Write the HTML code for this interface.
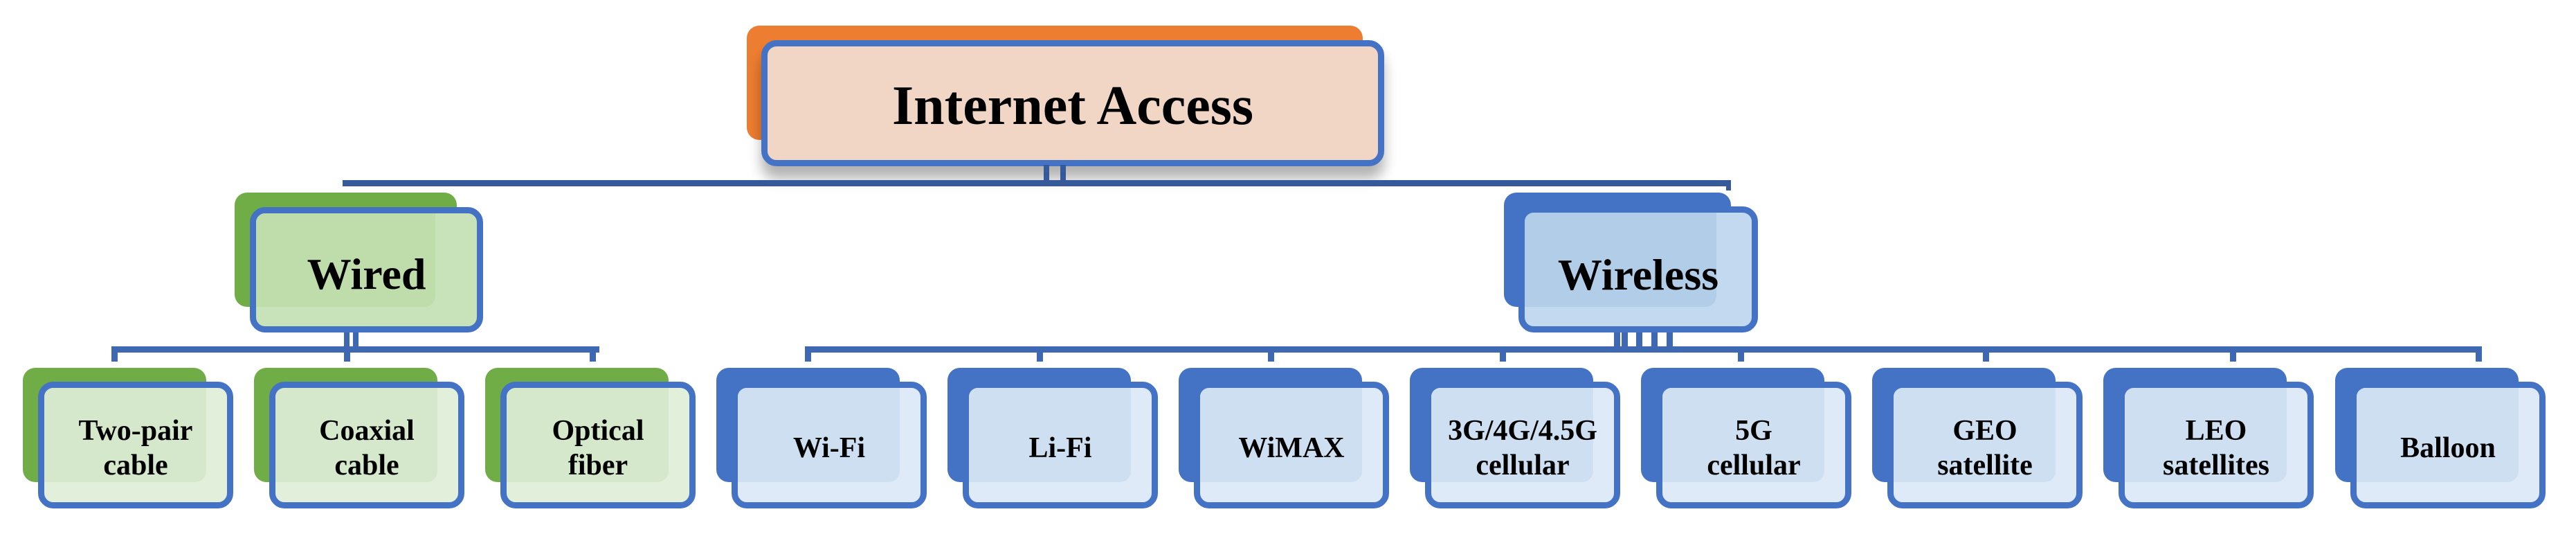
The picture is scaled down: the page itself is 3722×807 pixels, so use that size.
<!DOCTYPE html>
<html><head><meta charset="utf-8"><style>
body{margin:0;width:3722px;height:807px;background:#fff;position:relative;overflow:hidden;font-family:"Liberation Serif",serif;}
.a{position:absolute;}
.ln{position:absolute;background:#3e69b2;}
.bk{position:absolute;border-radius:18px;}
.fr{position:absolute;border:9px solid #4472c4;border-radius:22px;overflow:hidden;box-sizing:border-box;}
.in{position:absolute;border-radius:16px;}
.tx{position:absolute;left:0;right:0;text-align:center;font-weight:bold;color:#000;}
</style></head><body>

<!-- top box -->
<div class="bk" style="left:1079px;top:37px;width:890px;height:165px;background:#ed7d31;"></div>
<div class="fr" style="left:1100px;top:58px;width:900px;height:182px;background:#f2d6c5;box-shadow:0 18px 18px rgba(0,0,0,0.3);">
  <div class="tx" style="top:36px;font-size:80px;line-height:100px;">Internet Access</div>
</div>

<!-- top connector -->
<div class="ln" style="left:495px;top:260px;width:2006px;height:9px;background:#35599a;"></div>
<div class="ln" style="left:1508px;top:238px;width:8px;height:28px;background:#35599a;"></div>
<div class="ln" style="left:1532px;top:238px;width:8px;height:28px;background:#35599a;"></div>
<div class="ln" style="left:2494px;top:260px;width:7px;height:15px;background:#35599a;"></div>

<!-- Wired -->
<div class="bk" style="left:339px;top:278px;width:321px;height:165px;background:#70ad47;"></div>
<div class="fr" style="left:361px;top:299px;width:337px;height:181px;background:#c8e2b9;">
  <div class="in" style="left:-31px;top:-30px;width:290px;height:165px;background:#bfdcab;"></div>
  <div class="tx" style="top:48px;font-size:64px;line-height:80px;">Wired</div>
</div>
<div class="ln" style="left:497px;top:480px;width:8px;height:24px;"></div>
<div class="ln" style="left:510px;top:480px;width:8px;height:24px;"></div>
<div class="ln" style="left:161px;top:500px;width:705px;height:9px;"></div>
<div class="ln" style="left:161px;top:500px;width:9px;height:22px;"></div>
<div class="ln" style="left:497px;top:500px;width:9px;height:22px;"></div>
<div class="ln" style="left:852px;top:500px;width:9px;height:22px;"></div>

<!-- Wireless -->
<div class="bk" style="left:2173px;top:278px;width:328px;height:165px;background:#4472c4;"></div>
<div class="fr" style="left:2194px;top:298px;width:346px;height:182px;background:#c2d9ef;">
  <div class="in" style="left:-30px;top:-29px;width:307px;height:165px;background:#b2cde8;"></div>
  <div class="tx" style="top:50px;font-size:64px;line-height:80px;">Wireless</div>
</div>
<div class="ln" style="left:2332px;top:480px;width:9px;height:22px;"></div>
<div class="ln" style="left:2343px;top:480px;width:9px;height:22px;"></div>
<div class="ln" style="left:2364px;top:480px;width:9px;height:22px;"></div>
<div class="ln" style="left:2386px;top:480px;width:9px;height:22px;"></div>
<div class="ln" style="left:2408px;top:480px;width:9px;height:22px;"></div>
<div class="ln" style="left:1163px;top:500px;width:2423px;height:9px;"></div>
<div class="ln" style="left:1163px;top:500px;width:9px;height:22px;"></div>
<div class="ln" style="left:1498px;top:500px;width:9px;height:22px;"></div>
<div class="ln" style="left:1832px;top:500px;width:9px;height:22px;"></div>
<div class="ln" style="left:2167px;top:500px;width:9px;height:22px;"></div>
<div class="ln" style="left:2511px;top:500px;width:9px;height:22px;"></div>
<div class="ln" style="left:2865px;top:500px;width:9px;height:22px;"></div>
<div class="ln" style="left:3222px;top:500px;width:9px;height:22px;"></div>
<div class="ln" style="left:3577px;top:500px;width:9px;height:22px;"></div>

<!-- green leaves -->
<div class="bk" style="left:33px;top:531px;width:265px;height:165px;background:#70ad47;"></div>
<div class="fr" style="left:55px;top:551px;width:282px;height:183px;background:#e2efda;"><div class="in" style="left:-31px;top:-29px;width:265px;height:165px;background:#d5e8cb;"></div><div class="tx" style="top:37px;font-size:42px;line-height:50px;">Two-pair<br>cable</div></div>

<div class="bk" style="left:367px;top:531px;width:265px;height:165px;background:#70ad47;"></div>
<div class="fr" style="left:389px;top:551px;width:282px;height:183px;background:#e2efda;"><div class="in" style="left:-31px;top:-29px;width:265px;height:165px;background:#d5e8cb;"></div><div class="tx" style="top:37px;font-size:42px;line-height:50px;">Coaxial<br>cable</div></div>

<div class="bk" style="left:701px;top:531px;width:265px;height:165px;background:#70ad47;"></div>
<div class="fr" style="left:723px;top:551px;width:282px;height:183px;background:#e2efda;"><div class="in" style="left:-31px;top:-29px;width:265px;height:165px;background:#d5e8cb;"></div><div class="tx" style="top:37px;font-size:42px;line-height:50px;">Optical<br>fiber</div></div>

<!-- blue leaves -->
<div class="bk" style="left:1035px;top:531px;width:265px;height:165px;background:#4472c4;"></div>
<div class="fr" style="left:1057px;top:551px;width:282px;height:183px;background:#deeaf7;"><div class="in" style="left:-31px;top:-29px;width:265px;height:165px;background:#cddff0;"></div><div class="tx" style="top:62px;font-size:42px;line-height:50px;">Wi-Fi</div></div>

<div class="bk" style="left:1369px;top:531px;width:265px;height:165px;background:#4472c4;"></div>
<div class="fr" style="left:1391px;top:551px;width:282px;height:183px;background:#deeaf7;"><div class="in" style="left:-31px;top:-29px;width:265px;height:165px;background:#cddff0;"></div><div class="tx" style="top:62px;font-size:42px;line-height:50px;">Li-Fi</div></div>

<div class="bk" style="left:1703px;top:531px;width:265px;height:165px;background:#4472c4;"></div>
<div class="fr" style="left:1725px;top:551px;width:282px;height:183px;background:#deeaf7;"><div class="in" style="left:-31px;top:-29px;width:265px;height:165px;background:#cddff0;"></div><div class="tx" style="top:62px;font-size:42px;line-height:50px;">WiMAX</div></div>

<div class="bk" style="left:2037px;top:531px;width:265px;height:165px;background:#4472c4;"></div>
<div class="fr" style="left:2059px;top:551px;width:282px;height:183px;background:#deeaf7;"><div class="in" style="left:-31px;top:-29px;width:265px;height:165px;background:#cddff0;"></div><div class="tx" style="top:37px;font-size:42px;line-height:50px;">3G/4G/4.5G<br>cellular</div></div>

<div class="bk" style="left:2371px;top:531px;width:265px;height:165px;background:#4472c4;"></div>
<div class="fr" style="left:2393px;top:551px;width:282px;height:183px;background:#deeaf7;"><div class="in" style="left:-31px;top:-29px;width:265px;height:165px;background:#cddff0;"></div><div class="tx" style="top:37px;font-size:42px;line-height:50px;">5G<br>cellular</div></div>

<div class="bk" style="left:2705px;top:531px;width:265px;height:165px;background:#4472c4;"></div>
<div class="fr" style="left:2727px;top:551px;width:282px;height:183px;background:#deeaf7;"><div class="in" style="left:-31px;top:-29px;width:265px;height:165px;background:#cddff0;"></div><div class="tx" style="top:37px;font-size:42px;line-height:50px;">GEO<br>satellite</div></div>

<div class="bk" style="left:3039px;top:531px;width:265px;height:165px;background:#4472c4;"></div>
<div class="fr" style="left:3061px;top:551px;width:282px;height:183px;background:#deeaf7;"><div class="in" style="left:-31px;top:-29px;width:265px;height:165px;background:#cddff0;"></div><div class="tx" style="top:37px;font-size:42px;line-height:50px;">LEO<br>satellites</div></div>

<div class="bk" style="left:3374px;top:531px;width:265px;height:165px;background:#4472c4;"></div>
<div class="fr" style="left:3396px;top:551px;width:282px;height:183px;background:#deeaf7;"><div class="in" style="left:-31px;top:-29px;width:265px;height:165px;background:#cddff0;"></div><div class="tx" style="top:62px;font-size:42px;line-height:50px;">Balloon</div></div>

</body></html>
